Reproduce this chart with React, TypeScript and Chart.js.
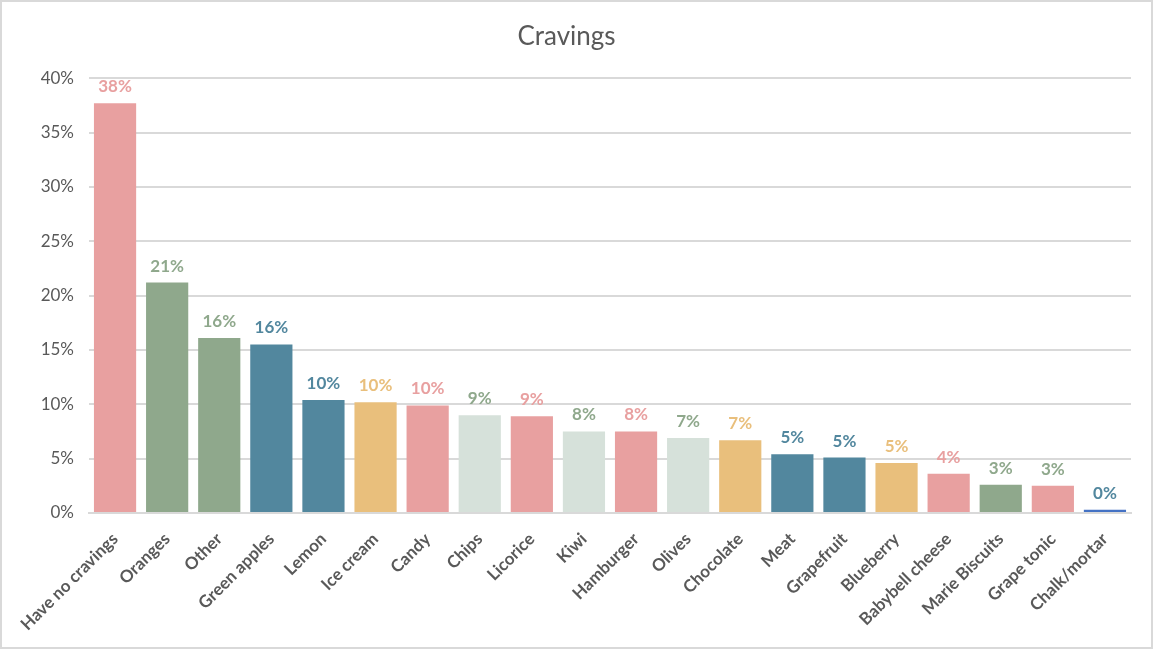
import React, { useEffect, useRef } from 'react';
import { Chart, registerables } from 'chart.js';

Chart.register(...registerables);

const categories = [
  'Have no cravings', 'Oranges', 'Other', 'Green apples', 'Lemon', 'Ice cream',
  'Candy', 'Chips', 'Licorice', 'Kiwi', 'Hamburger', 'Olives', 'Chocolate',
  'Meat', 'Grapefruit', 'Blueberry', 'Babybell cheese', 'Marie Biscuits',
  'Grape tonic', 'Chalk/mortar',
];

const values = [
  37.7, 21.2, 16.1, 15.5, 10.4, 10.2, 9.9, 9.0, 8.9, 7.5,
  7.5, 6.9, 6.7, 5.4, 5.1, 4.6, 3.6, 2.6, 2.5, 0.3,
];

const pink = '#E8A0A0';
const sage = '#8FA88C';
const teal = '#52879E';
const sand = '#E9BF7C';
const mist = '#D6E1DA';
const blue = '#4472C4';

const barColors = [
  pink, sage, sage, teal, teal, sand, pink, mist, pink, mist,
  pink, mist, sand, teal, teal, sand, pink, sage, pink, blue,
];

const labelColors = [
  pink, sage, sage, teal, teal, sand, pink, sage, pink, sage,
  pink, sage, sand, teal, teal, sand, pink, sage, sage, teal,
];

const FONT = 'Lato, "Noto Sans", sans-serif';

const valueLabels = {
  id: 'valueLabels',
  afterDatasetsDraw(chart: Chart) {
    const ctx = chart.ctx;
    const meta = chart.getDatasetMeta(0);
    ctx.save();
    ctx.font = `bold 17px ${FONT}`;
    ctx.textAlign = 'center';
    ctx.textBaseline = 'bottom';
    meta.data.forEach((bar: any, i: number) => {
      ctx.fillStyle = labelColors[i];
      ctx.fillText(Math.round(values[i]) + '%', bar.x, bar.y - 8);
    });
    ctx.restore();
  },
};

const App: React.FC = () => {
  const canvasRef = useRef<HTMLCanvasElement>(null);

  useEffect(() => {
    if (!canvasRef.current) return;
    const chart = new Chart(canvasRef.current, {
      type: 'bar',
      data: {
        labels: categories,
        datasets: [
          {
            data: values,
            backgroundColor: barColors,
            categoryPercentage: 0.81,
            barPercentage: 1,
          },
        ],
      },
      options: {
        animation: false,
        responsive: true,
        maintainAspectRatio: false,
        layout: { padding: { left: 0, right: 20, top: 0, bottom: 0 } },
        plugins: {
          legend: { display: false },
          tooltip: { enabled: false },
          title: {
            display: true,
            text: 'Cravings',
            color: '#595959',
            font: { family: FONT, size: 26, weight: 'normal' },
            padding: { top: 19, bottom: 26 },
          },
        },
        scales: {
          x: {
            grid: { display: false },
            border: { display: true, color: '#D9D9D9', width: 2 },
            ticks: {
              color: '#595959',
              font: { family: FONT, size: 17, weight: 'bold' },
              minRotation: 45,
              maxRotation: 45,
              autoSkip: false,
              padding: 8,
            },
            afterFit: (scale: any) => {
              scale.height = 134;
            },
          },
          y: {
            min: 0,
            max: 40,
            grid: { color: '#D9D9D9', lineWidth: 2, drawTicks: false },
            border: { display: false },
            ticks: {
              stepSize: 5,
              color: '#595959',
              font: { family: FONT, size: 17 },
              padding: 15,
              callback: (v: any) => v + '%',
            },
            afterFit: (scale: any) => {
              scale.width = 87;
            },
          },
        },
      },
      plugins: [valueLabels],
    });
    return () => chart.destroy();
  }, []);

  return (
    <div
      style={{
        position: 'fixed',
        top: 0,
        left: 0,
        width: 1153,
        height: 649,
        boxSizing: 'border-box',
        border: '2px solid #D9D9D9',
        background: '#fff',
      }}
    >
      <div style={{ position: 'relative', width: 1149, height: 645 }}>
        <canvas ref={canvasRef}></canvas>
      </div>
    </div>
  );
};

export default App;
